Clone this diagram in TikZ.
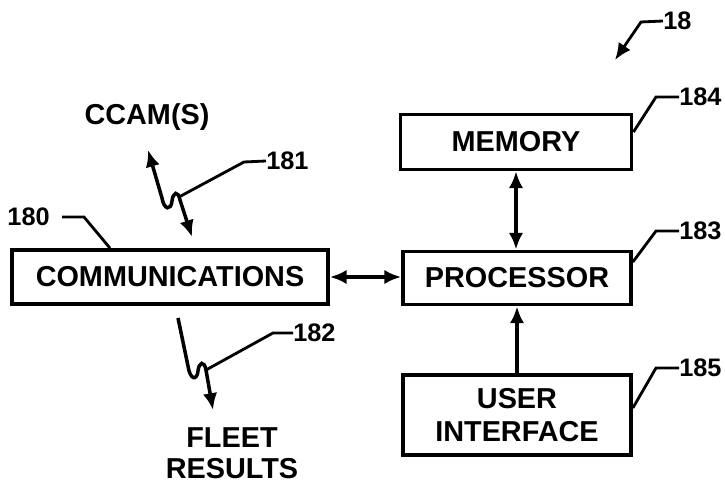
\documentclass[tikz,border=0pt]{standalone}
\usepackage{fontspec}
\setmainfont{Liberation Sans}
\usepackage{tikz}
\usetikzlibrary{arrows.meta}
\usetikzlibrary{positioning}
\tikzset{blk/.style = {draw, line width = 2.6pt, inner sep = 0,
                       font = \bfseries\fontsize{20.5}{23}\selectfont, align = center}}
\tikzset{lbl/.style = {inner sep = 0, font = \bfseries\fontsize{20.5}{22}\selectfont, align = center}}
\tikzset{num/.style = {inner sep = 0, font = \bfseries\fontsize{18}{20}\selectfont}}
\tikzset{lead/.style = {line width = 2pt}}
\tikzset{link/.style = {line width = 2.5pt}}
\tikzset{tip/.style = {arrows = {-Latex[length = 4.2mm, width = 3.6mm]}}}
\tikzset{tips/.style = {arrows = {Latex[length = 4.2mm, width = 3.6mm]-Latex[length = 4.2mm, width = 3.6mm]}}}

\begin{document}
\begin{tikzpicture}[x = 0.025cm, y = -0.025cm]
      \useasboundingbox (0, 0) rectangle (725, 485);

      \node (comm) at (170, 277) [blk, minimum width = 7.9cm, minimum height = 1.35cm] {COMMUNICATIONS};
      \node (proc) at (517, 278) [blk, minimum width = 5.7cm, minimum height = 1.33cm] {PROCESSOR};
      \node (mem) at (516, 142) [blk, minimum width = 5.78cm, minimum height = 1.375cm] {MEMORY};
      \node (ui) at (517, 415) [blk, minimum width = 5.7cm, minimum height = 2cm] {USER\\INTERFACE};

      \node (ccam) at (147, 117) [lbl] {CCAM(S)};
      \node (fleet) at (232, 453) [lbl] {FLEET\\RESULTS};

      \node (n18) at (663, 21) [num, anchor = west] {18};
      \node (n184) at (679, 97) [num, anchor = west] {184};
      \node (n183) at (679, 231) [num, anchor = west] {183};
      \node (n185) at (679, 368) [num, anchor = west] {185};
      \node (n181) at (266, 161) [num, anchor = west] {181};
      \node (n182) at (293, 333) [num, anchor = west] {182};
      \node (n180) at (50, 217) [num, anchor = east] {180};

      \coordinate (sys) at (615, 60);
      \coordinate (up1) at (148, 150);
      \coordinate (dn1) at (192, 237);
      \coordinate (k1) at (179, 197);
      \coordinate (up2) at (178, 318);
      \coordinate (dn2) at (213, 410);
      \coordinate (k2) at (206, 370);

      \draw [link, tips] (comm.east) -- (comm.east -| proc.west);
      \draw [link, tips] (mem.south) -- (mem.south |- proc.north);
      \draw [link, tip] (ui.north) -- (ui.north |- proc.south);

      \draw [link, tips] (up1) -- (162, 198) .. controls (164, 210) and (171, 211) .. (172, 201)
            .. controls (173, 192) and (178, 190) .. (180, 200) -- (dn1);
      \draw [link, tip] (up2) -- (188, 366) .. controls (190, 380) and (197, 381) .. (198, 371)
            .. controls (199, 362) and (204, 360) .. (206, 370) -- (dn2);

      \draw [lead, tip] (n18.west) -- ++(-22, 1) -- (sys);
      \draw [lead] (n184.west) -- ++(-23, 0) -- ([yshift = 0.25cm]mem.east);
      \draw [lead] (n183.west) -- ++(-23, 0) -- ([yshift = 0.4cm]proc.east);
      \draw [lead] (n185.west) -- ++(-23, 0) -- ([yshift = 0.175cm]ui.east);
      \draw [lead] (n181.west) -- ++(-22, 1) -- (k1);
      \draw [lead] (n182.west) -- ++(-20, 0) -- (k2);
      \draw [lead] (n180.east) ++(12, 0) -- ++(22, 0) -- ([xshift = -1.5cm]comm.north);
    \end{tikzpicture}
\end{document}
